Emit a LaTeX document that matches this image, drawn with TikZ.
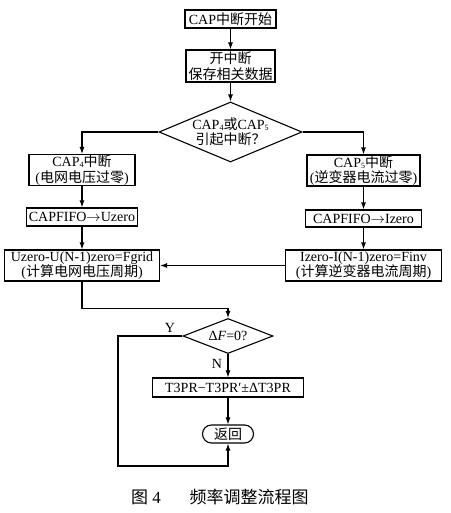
\documentclass[tikz,border=0pt]{standalone}
\usepackage{fontspec}
\setmainfont{Liberation Serif}
\newfontfamily\cjk{Noto Sans CJK SC}
\usetikzlibrary{shapes.geometric,arrows.meta}
\newcommand\zh[1]{{\cjk #1}}
\newcommand\capsub[1]{\raisebox{-1pt}{\fontsize{8}{8}\selectfont #1}}
\begin{document}
\begin{tikzpicture}[x=1pt,y=-1pt, line width=1.1pt,
  font=\fontsize{14}{15.5}\selectfont,
  box/.style={draw, rectangle, inner sep=0pt, align=center},
  dec/.style={draw, diamond, inner sep=0pt},
  arr/.style={-{Latex[length=7pt,width=5pt]}},
  lbl/.style={inner sep=0pt}]
\useasboundingbox (0,0) rectangle (450,513);
% top
\node[box, minimum width=91pt, minimum height=18pt] (start) at (230.5,19) {CAP\zh{中断开始}};
\node[box, minimum width=89pt, minimum height=32pt] (save) at (230.5,66) {\zh{开中断}\\\zh{保存相关数据}};
\node[dec, minimum width=143pt, minimum height=60pt,
  label={[align=center]center:CAP\capsub{4}\zh{或}CAP\capsub{5}\\\zh{引起中断？}}] (d1) at (230.5,132) {};
% left branch
\node[box, minimum width=106pt, minimum height=31pt] (c4) at (82,170) {CAP\capsub{4}\zh{中断}\\(\zh{电网电压过零})};
\node[box, minimum width=111pt, minimum height=18pt] (fu) at (82,217) {CAPFIFO$\rightarrow$Uzero};
\node[box, minimum width=155pt, minimum height=31pt] (uz) at (82,265.5) {Uzero-U(N-1)zero=Fgrid\\(\zh{计算电网电压周期})};
% right branch
\node[box, minimum width=113pt, minimum height=31pt] (c5) at (363.5,170.5) {CAP\capsub{5}\zh{中断}\\(\zh{逆变器电流过零})};
\node[box, minimum width=116pt, minimum height=17pt] (fi) at (363.5,218.5) {CAPFIFO$\rightarrow$Izero};
\node[box, minimum width=156pt, minimum height=31pt] (iz) at (363.5,265.5) {Izero-I(N-1)zero=Finv\\(\zh{计算逆变器电流周期})};
% lower part
\node[dec, minimum width=90pt, minimum height=35pt,
  label={center:Δ\textit{F}=0?}] (d2) at (228,336) {};
\node[lbl] (ylab) at (170,328) {Y};
\node[lbl] (nlab) at (217,364) {N};
\node[box, minimum width=151pt, minimum height=19pt] (t3) at (228,387.5) {T3PR−T3PR′±ΔT3PR};
\node[box, rounded corners=9pt, minimum width=51pt, minimum height=18pt] (ret) at (228,434) {\zh{返回}};
\coordinate (yc) at (118,466);
% caption
\node[font=\fontsize{17}{18}\selectfont] (cap1) at (146,497) {\zh{图} 4};
\node[font=\fontsize{17}{18}\selectfont] (cap2) at (249,497) {\zh{频率调整流程图}};
% connectors
\draw[arr] (start) -- (save);
\draw[arr] (save) -- (d1);
\draw[arr] (d1.west) -| (c4.north);
\draw[arr] (d1.east) -| (c5.north);
\draw[arr] (c4) -- (fu);
\draw[arr] (fu) -- (uz);
\draw[arr] (c5) -- (fi);
\draw[arr] (fi) -- (iz);
\draw[arr] (iz.west) -- (uz.east);
\draw[arr] (uz.south) -- ++(0,26.5) -| (d2.north);
\draw[arr] (d2) -- (t3);
\draw[arr] (t3) -- (ret);
\draw[arr] (d2.west) -| (yc) -| (ret.south);
\end{tikzpicture}
\end{document}
